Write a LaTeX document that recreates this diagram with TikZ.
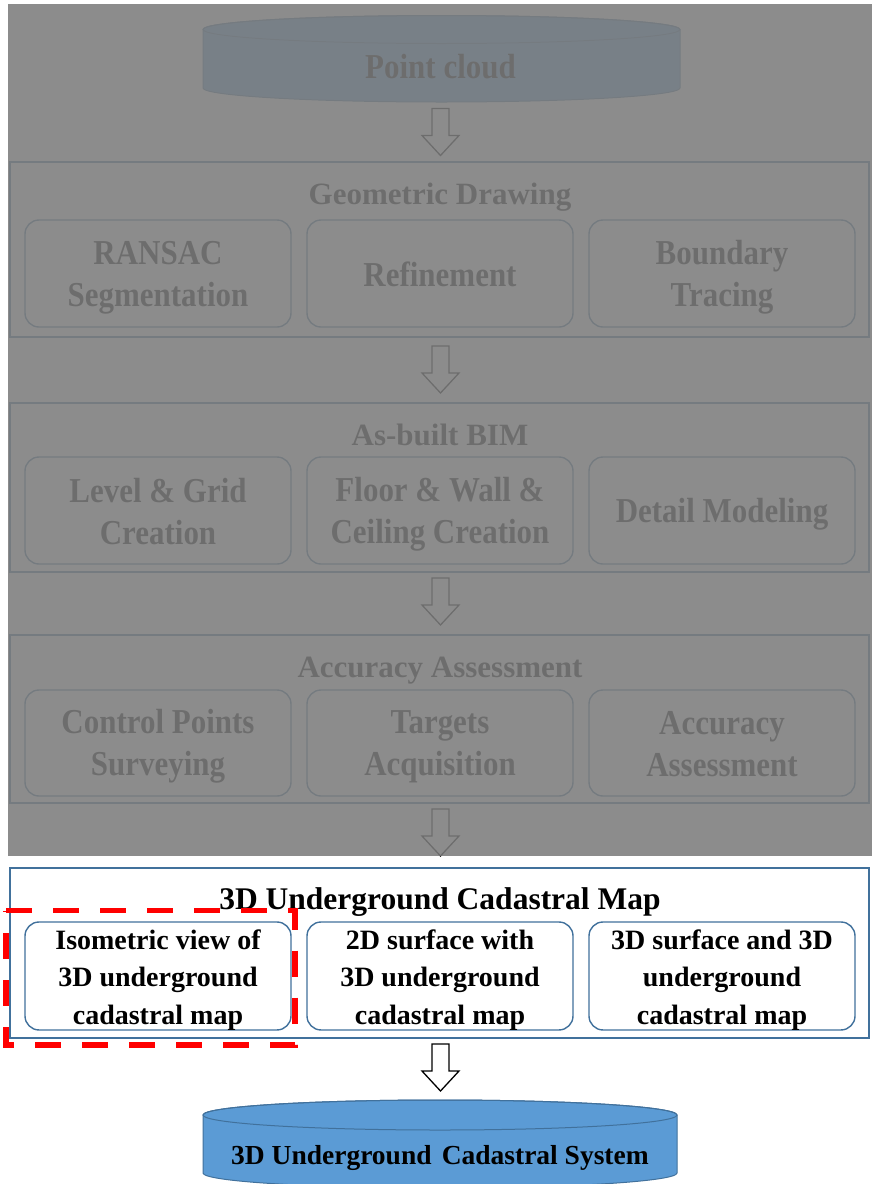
\documentclass[tikz,border=0pt]{standalone}
\usepackage{fontspec}
\setmainfont{Liberation Serif}
\newfontfamily\tallserif[FakeStretch=0.885]{Liberation Serif}
\usetikzlibrary{calc}
\definecolor{frameblue}{RGB}{65,113,156}
\definecolor{drumblue}{RGB}{91,155,213}
\definecolor{veilgray}{RGB}{125,125,125}
% line struts: fixed ascent/descent per line so that text blocks centre evenly
\newcommand\gs{\rule[-6pt]{0pt}{37pt}}
\newcommand\ms{\rule[-4pt]{0pt}{31pt}}
\tikzset{
  blockarrow/.pic={
    \draw[black, line width=1.3pt, fill=white, line join=miter]
      (-8.5,0) -- (8.5,0) -- (8.5,27) -- (18.5,27) -- (0,47)
      -- (-18.5,27) -- (-8.5,27) -- cycle;
  }
}
\begin{document}
\begin{tikzpicture}[x=1pt,y=-1pt,
  every node/.style={inner sep=0pt, outer sep=0pt},
  stagebox/.style={draw=frameblue, line width=1.8pt, minimum width=859pt, anchor=north west},
  taskbox/.style={draw=frameblue, line width=1.4pt, rounded corners=14pt,
    minimum width=266pt, minimum height=107pt, anchor=north west, align=center},
  graytask/.style={taskbox, font=\tallserif\bfseries\fontsize{35}{42}\selectfont},
  maptask/.style={taskbox, font=\bfseries\fontsize{28}{37.5}\selectfont},
  stagetitle/.style={anchor=base, font=\bfseries\fontsize{31}{37}\selectfont},
  drum/.style={fill=drumblue, draw=frameblue, line width=1pt},
  marker/.style={draw=red, line width=5.7pt, dash pattern=on 26pt off 21pt}
]
\clip (0,0) rectangle (872,1184);
\fill[white] (0,0) rectangle (872,1184);

% ---------- point cloud drum ----------
\path[drum] (203,29.5) -- (203,88)
  arc[start angle=180, end angle=360, x radius=238.5pt, y radius=14pt]
  -- (680,29.5)
  arc[start angle=0, end angle=180, x radius=238.5pt, y radius=14pt] -- cycle;
\draw[draw=frameblue, line width=1pt] (441.5,29.5) ellipse [x radius=238.5pt, y radius=14pt];
\node[minimum width=477pt, minimum height=88pt] (cloud) at (441.5,58.5) {};
\node[anchor=base, font=\tallserif\bfseries\fontsize{35}{42}\selectfont] (cloudtxt) at (440.5,78.3) {Point cloud};

% ---------- geometric drawing ----------
\node[stagebox, minimum height=175pt] (geo) at (10,162) {};
\node[stagetitle] (geotitle) at (440,204) {Geometric Drawing};
\node[graytask] (ransac) at (25,220) {\gs RANSAC\\\gs Segmentation};
\node[graytask] (refine) at (307,220) {\gs Refinement};
\node[graytask] (trace) at (589,220) {\gs Boundary\\\gs Tracing};

% ---------- as-built BIM ----------
\node[stagebox, minimum height=169pt] (bim) at (10,403) {};
\node[stagetitle] (bimtitle) at (440,445) {As-built BIM};
\node[graytask] (level) at (25,457) {\gs Level \& Grid\\\gs Creation};
\node[graytask] (floor) at (307,457) {\gs Floor \& Wall \&\\\gs Ceiling Creation};
\node[graytask] (detail) at (589,457) {\gs Detail Modeling};

% ---------- accuracy assessment ----------
\node[stagebox, minimum height=168pt] (acc) at (10,635) {};
\node[stagetitle] (acctitle) at (440,677) {Accuracy Assessment};
\node[graytask, minimum height=106pt] (control) at (25,690) {\gs Control Points\\\gs Surveying};
\node[graytask, minimum height=106pt] (targets) at (307,690) {\gs Targets\\\gs Acquisition};
\node[graytask, minimum height=106pt] (assess) at (589,690) {\gs Accuracy\\\gs Assessment};

% ---------- block arrows of the upper stages ----------
\pic at ($(cloud.south)+(-1,6)$) {blockarrow};
\pic at ($(geo.south)+(1,9)$) {blockarrow};
\pic at ($(bim.south)+(1,6)$) {blockarrow};
\pic at ($(acc.south)+(1,6)$) {blockarrow};

% veil over the upper stages
\fill[veilgray, fill opacity=0.88] (8,4) rectangle (872,856);

% ---------- 3D underground cadastral map ----------
\node[stagebox, minimum height=170pt] (map) at (10,868) {};
\node[stagetitle, font=\bfseries\fontsize{31.5}{37}\selectfont] (maptitle) at (440,909) {3D Underground Cadastral Map};
\node[maptask, minimum height=106pt] (iso) at (25,922) {\ms Isometric view of\\\ms 3D underground\\\ms cadastral map};
\node[maptask, minimum height=106pt] (surf2d) at (307,922) {\ms 2D surface with\\\ms 3D underground\\\ms cadastral map};
\node[maptask, minimum height=106pt] (surf3d) at (589,922) {\ms 3D surface and 3D\\\ms underground\\\ms cadastral map};

\pic at ($(map.south)+(1,6)$) {blockarrow};

% ---------- 3D underground cadastral system drum ----------
\path[drum] (203,1115) -- (203,1173)
  arc[start angle=180, end angle=360, x radius=237pt, y radius=15pt]
  -- (677,1115)
  arc[start angle=0, end angle=180, x radius=237pt, y radius=15pt] -- cycle;
\draw[draw=frameblue, line width=1pt] (440,1115) ellipse [x radius=237pt, y radius=15pt];
\node[minimum width=474pt, minimum height=88pt, anchor=north] (system) at (440,1100) {};
\node[anchor=base, font=\bfseries\fontsize{27.5}{34}\selectfont] (systemtxt) at (440,1164) {3D Underground\hspace{0.12em} Cadastral System};

% highlight around the isometric view
\draw[marker] (6,910.5) -- (295,910.5) -- (295,1045) -- (6,1045) -- cycle;
\end{tikzpicture}
\end{document}
